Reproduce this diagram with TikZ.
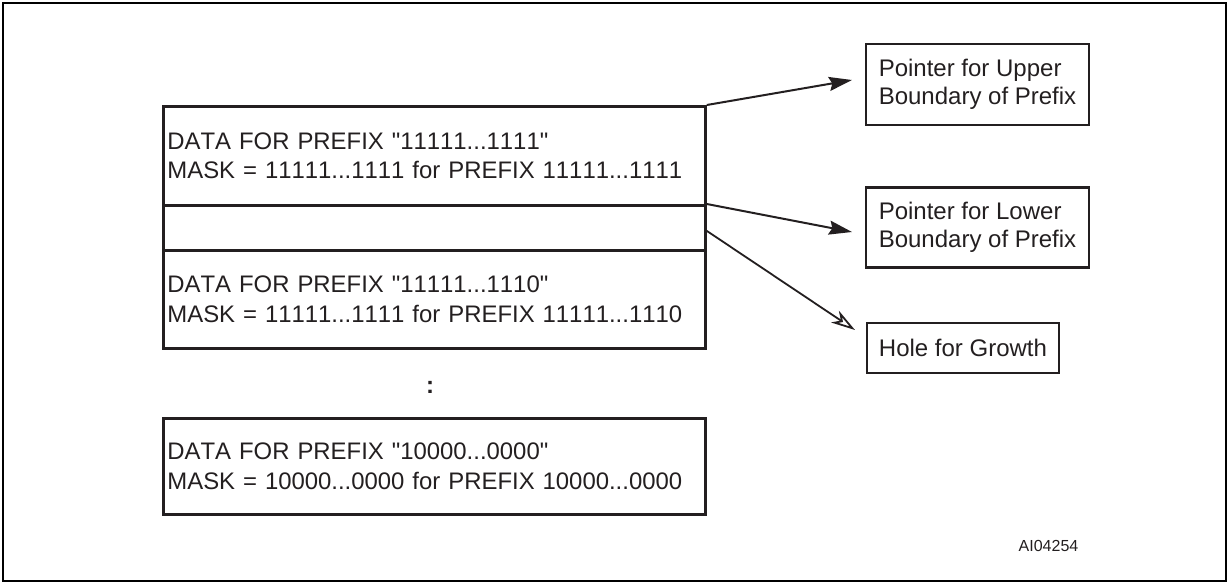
\documentclass[tikz,border=0pt]{standalone}
\usepackage{fontspec}
\setmainfont[Kerning=Off]{Liberation Sans}
\usetikzlibrary{arrows.meta}
\definecolor{ink}{RGB}{35,31,32}
\begin{document}
\begin{tikzpicture}[x=1pt,y=-1pt,
  databox/.style={draw=ink, text=ink, line width=2.8pt, minimum width=542pt, text width=534pt,
    inner xsep=4pt, inner ysep=0pt, align=left, font=\fontsize{23.9}{29.5}\selectfont, anchor=north west},
  ptrbox/.style={draw=ink, text=ink, line width=2.8pt, align=left, inner xsep=4pt, inner ysep=0pt,
    font=\fontsize{24}{28}\selectfont},
  arr/.style={draw=ink, line width=2pt, -{Stealth[length=23pt,width=14pt,inset=3pt]}},
  openarr/.style={draw=ink, line width=1.8pt, -{Stealth[open,length=24pt,width=14pt,inset=7pt]}},
  lbl/.style={text=ink, inner sep=0pt}
]
\useasboundingbox (0,0) rectangle (1229,584);
\draw[line width=2pt] (3,3) rectangle (1226,581);

\node[databox, minimum height=99pt] (d1) at (162,105)
  {\mbox{DATA FOR PREFIX \textquotedbl11111...1111\textquotedbl}\\\mbox{MASK = 11111...1111 for PREFIX 11111...1111}};
\node[databox, minimum height=45pt] (gap) at (162,204) {};
\node[databox, minimum height=98pt] (d2) at (162,249)
  {\mbox{DATA FOR PREFIX \textquotedbl11111...1110\textquotedbl}\\\mbox{MASK = 11111...1111 for PREFIX 11111...1110}};
\node[lbl, font=\fontsize{24}{28}\selectfont\bfseries] (dots) at (430,387) {:};
\node[databox, minimum height=96pt] (d3) at (162,417)
  {\mbox{DATA FOR PREFIX \textquotedbl10000...0000\textquotedbl}\\\mbox{MASK = 10000...0000 for PREFIX 10000...0000}};

\node[ptrbox, minimum width=223pt, minimum height=81pt] (up) at (977.5,84.5)
  {Pointer for Upper\\Boundary of Prefix};
\node[ptrbox, minimum width=223pt, minimum height=80pt] (lo) at (977.5,227.5)
  {Pointer for Lower\\Boundary of Prefix};
\node[ptrbox, minimum width=192pt, minimum height=50pt] (hole) at (963,348)
  {Hole for Growth};

\coordinate (tup) at (852,80);
\coordinate (tlo) at (852,232);
\coordinate (thole) at (855,330);

\draw[arr] (d1.north east) -- (tup);
\draw[arr] (gap.north east) -- (tlo);
\draw[openarr] ([yshift=-3pt]gap.east) -- (thole);

\node[lbl, font=\fontsize{16}{18}\selectfont] (id) at (1048.5,546) {AI04254};
\end{tikzpicture}
\end{document}
